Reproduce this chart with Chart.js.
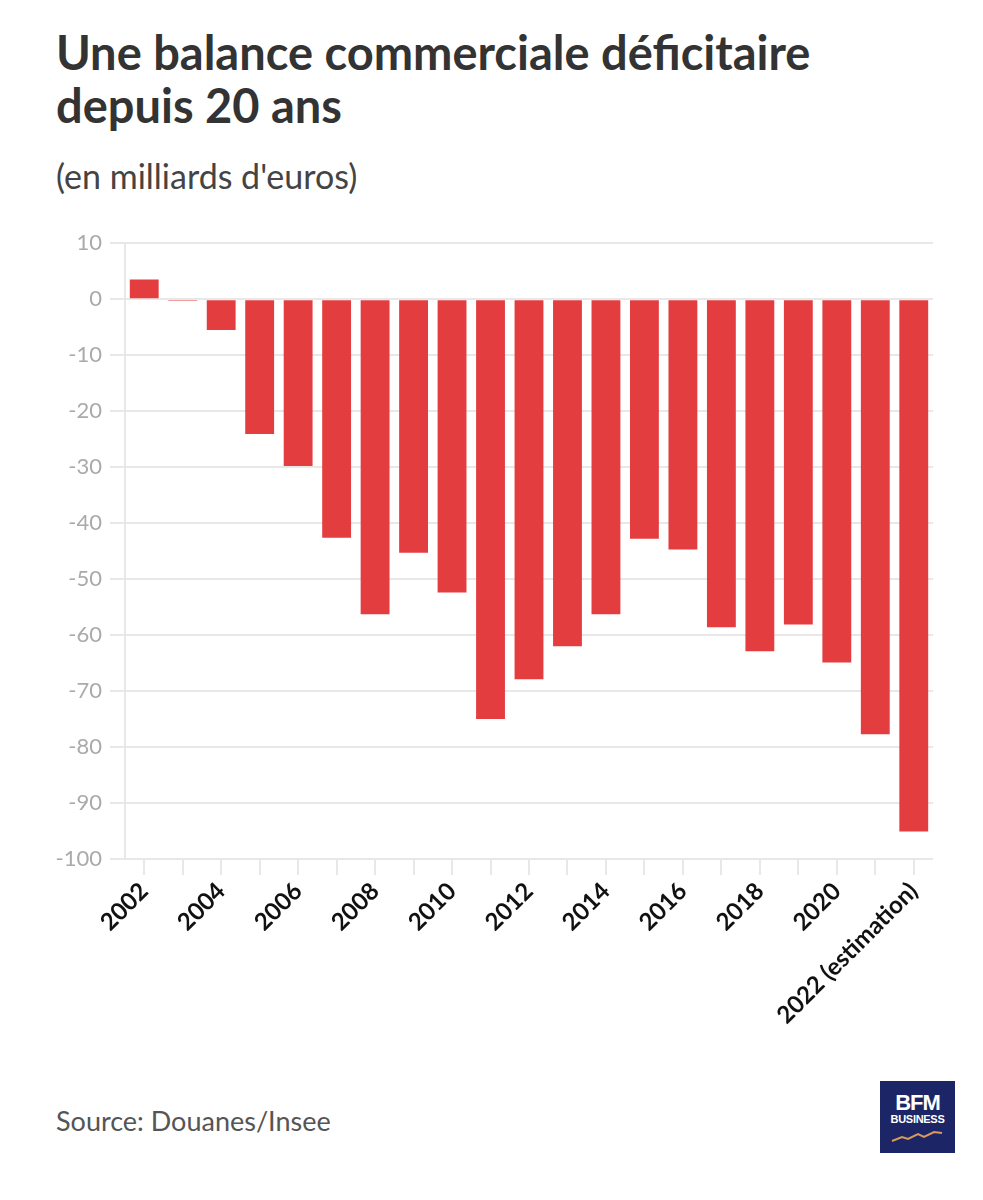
<!DOCTYPE html>
<html>
<head>
<meta charset="utf-8">
<script src="https://cdn.jsdelivr.net/npm/chart.js@4"></script>
<style>
  html, body { margin: 0; padding: 0; background: #fff; }
  body { width: 983px; height: 1200px; position: relative; font-family: Lato, "Open Sans", sans-serif; }
  #title { position: absolute; left: 56px; top: 26px; margin: 0; font-size: 47px; line-height: 53px; font-weight: 700; color: #333; }
  #subtitle { position: absolute; left: 56px; top: 155px; font-size: 34px; color: #444; font-weight: 400; }
  #chartWrap { position: absolute; left: 0; top: 222px; width: 983px; height: 838px; }
  #source { position: absolute; left: 56px; top: 1104px; font-size: 27px; color: #555; }
  #logo { position: absolute; left: 880px; top: 1081px; width: 75px; height: 72px; background: #1c2566; color: #fff; text-align: center; font-family: "Liberation Sans Narrow", "Liberation Sans", sans-serif; }
  #logo .bfm { display: block; font-size: 22px; font-weight: 700; line-height: 20px; margin-top: 12px; letter-spacing: -1px; }
  #logo .biz { display: block; font-size: 11px; font-weight: 700; line-height: 12px; letter-spacing: -0.3px; }
  #logo svg { position: absolute; left: 10px; top: 48px; }
</style>
</head>
<body>
<h1 id="title">Une balance commerciale déficitaire<br>depuis 20 ans</h1>
<div id="subtitle">(en milliards d'euros)</div>
<div id="chartWrap"><canvas id="chart"></canvas></div>
<div id="source">Source: Douanes/Insee</div>
<div id="logo"><span class="bfm">BFM</span><span class="biz">BUSINESS</span>
  <svg width="56" height="14" viewBox="0 0 56 14"><polyline points="2,12 12,8 18,10 28,5 34,8 44,3 52,4" fill="none" stroke="#d99a5b" stroke-width="2"/></svg>
</div>
<script>
const years = ['2002', '2003', '2004', '2005', '2006', '2007', '2008', '2009', '2010', '2011', '2012',
  '2013', '2014', '2015', '2016', '2017', '2018', '2019', '2020', '2021', '2022 (estimation)'];
const balance = [3.5, -0.3, -5.5, -24.1, -29.8, -42.6, -56.3, -45.3, -52.4, -75.0, -67.9,
  -62.0, -56.3, -42.8, -44.7, -58.6, -62.9, -58.1, -64.9, -77.7, -95.1];
const yTicks = [10, 0, -10, -20, -30, -40, -50, -60, -70, -80, -90, -100];

const gridColor = '#e8e8e8';

new Chart(document.getElementById('chart'), {
  type: 'bar',
  data: {
    labels: years,
    datasets: [{
      data: balance,
      backgroundColor: '#e33d40',
      categoryPercentage: 1,
      barPercentage: 0.75
    }]
  },
  options: {
    responsive: true,
    maintainAspectRatio: false,
    animation: false,
    layout: { padding: { top: 15, right: 50, left: 0, bottom: 0 } },
    plugins: {
      legend: { display: false },
      tooltip: { enabled: false }
    },
    scales: {
      x: {
        grid: { display: true, drawOnChartArea: false, drawTicks: true, tickLength: 16, offset: false, color: gridColor, lineWidth: 2 },
        border: { display: false },
        ticks: {
          autoSkip: false,
          maxRotation: 45,
          minRotation: 45,
          padding: 2,
          color: '#111',
          font: { family: 'Lato', size: 24, weight: 'bold' },
          callback: function(value, index) {
            return index % 2 === 0 ? this.getLabelForValue(value) : '';
          }
        },
        afterFit: function(scale) { scale.height = 838 - 637; }
      },
      y: {
        min: -100,
        max: 10,
        afterBuildTicks: function(scale) { scale.ticks = yTicks.map(v => ({ value: v })); },
        grid: { color: gridColor, lineWidth: 2, tickLength: 15 },
        border: { display: true, color: gridColor, width: 2 },
        ticks: {
          padding: 8,
          color: '#aaa',
          font: { family: 'Lato', size: 22 }
        },
        afterFit: function(scale) { scale.width = 125; }
      }
    }
  }
});
</script>
</body>
</html>
